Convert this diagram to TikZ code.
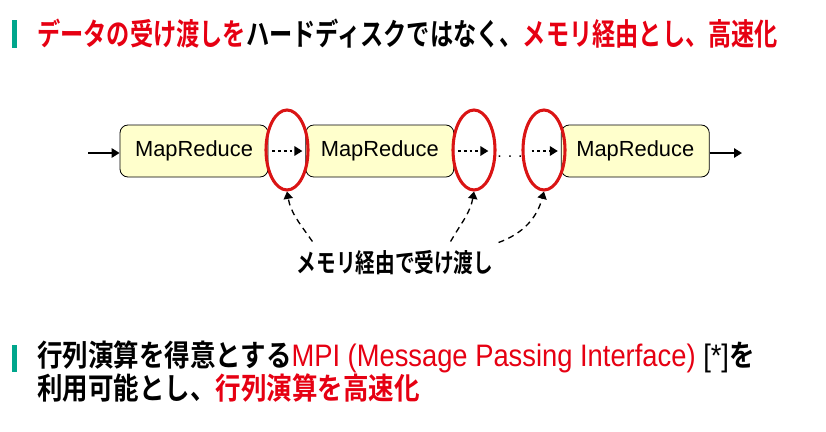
\documentclass[tikz,border=0pt]{standalone}
\usepackage{fontspec}
\usepackage{xcolor}
\usetikzlibrary{arrows.meta,calc,positioning,shapes.geometric}
\newfontfamily\jpgoth{Noto Sans CJK JP Bold}[FakeStretch=0.85]
\newfontfamily\jptitle{Noto Sans CJK JP Bold}[FakeStretch=0.76]
\newfontfamily\latinsans{Liberation Sans}
\newfontfamily\latinnarrow{Liberation Sans}[FakeStretch=0.88]
\definecolor{hlred}{RGB}{230,0,18}
\definecolor{ringred}{RGB}{218,20,20}
\definecolor{barteal}{RGB}{0,166,140}
\definecolor{mrfill}{RGB}{255,255,204}
\tikzset{
  mrbox/.style={rectangle,rounded corners=6pt,draw=black,line width=0.6pt,
    fill=mrfill,minimum width=111pt,minimum height=39pt,inner sep=0pt,
    font=\latinsans\fontsize{16.4pt}{19pt}\selectfont},
  memo/.style={ellipse,draw=ringred,line width=2.3pt,minimum width=31.5pt,
    minimum height=60pt,inner sep=0pt},
  flow/.style={-{Triangle[length=6pt,width=7pt]},line width=1.5pt},
  handoff/.style={-{Triangle[length=6pt,width=7pt]},line width=2pt,
    dash pattern=on 2pt off 2.3pt},
  viaarr/.style={-{Triangle[length=5.5pt,width=7pt]},line width=1pt,
    dash pattern=on 4.5pt off 3.5pt},
  headline/.style={anchor=west,inner sep=0pt,
    font=\jptitle\fontsize{22.9pt}{26pt}\selectfont},
  bodyline/.style={anchor=west,inner sep=0pt,
    font=\jpgoth\fontsize{22.5pt}{26pt}\selectfont},
  notelabel/.style={inner sep=0pt,font=\jptitle\fontsize{19.4pt}{22pt}\selectfont}
}
\begin{document}
\begin{tikzpicture}[x=0.75pt,y=0.75pt]
  \useasboundingbox (0,0) rectangle (826,-432);
  % heading
  \fill[barteal] (12,-20) rectangle (17,-48);
  \node[headline] (title) at (37,-34) {\color{hlred}データの受け渡しを\color{black}ハードディスクではなく、\color{hlred}メモリ経由とし、高速化};

  % chain of MapReduce jobs
  \node[mrbox] (mr1) at (194,-151) {MapReduce};
  \node[mrbox,right=27.75pt of mr1] (mr2) {MapReduce};
  \node[mrbox,right=80pt of mr2] (mr3) {MapReduce};
  \node[inner sep=0pt,minimum width=32pt,font=\latinsans\fontsize{12pt}{14pt}\selectfont] (gap) at (510,-157) {. . .};
  \coordinate (in) at (88,-153);
  \coordinate (out) at (742,-153);
  \draw[flow] (in) -- (mr1.west |- in);
  \draw[flow] (mr3.east |- out) -- (out);
  \draw[handoff,shorten <=3pt,shorten >=2.25pt] (mr1.east) -- (mr2.west);
  \draw[handoff,shorten <=3pt] (mr2.east) -- (mr2.east -| gap.west);
  \draw[handoff,shorten >=2.25pt] (gap.east |- mr3.west) -- (mr3.west);

  % memory hand-over points
  \node[memo] (memo1) at (287,-150) {};
  \node[memo] (memo2) at (474,-150) {};
  \node[memo] (memo3) at (544,-150) {};
  \node[notelabel] (note) at (395,-263) {メモリ経由で受け渡し};
  \draw[viaarr] ([shift={(16,9)}]note.north west) to[out=125,in=-80] (memo1.south);
  \draw[viaarr] ([shift={(-43,9)}]note.north east) to[out=60,in=-100] (memo2.south);
  \draw[viaarr] ([shift={(5,8)}]note.north east) to[out=20,in=-105] (memo3.south);

  % MPI
  \fill[barteal] (12,-345) rectangle (17,-372);
  \node[bodyline] (mpiline) at (37,-357) {行列演算を得意とする{\latinnarrow\fontsize{23.3pt}{26pt}\selectfont\color{hlred}MPI (Message Passing Interface) \color{black}[*]}を};
  \node[bodyline] (speedline) at (37,-388) {利用可能とし、\color{hlred}行列演算を高速化};
\end{tikzpicture}
\end{document}
